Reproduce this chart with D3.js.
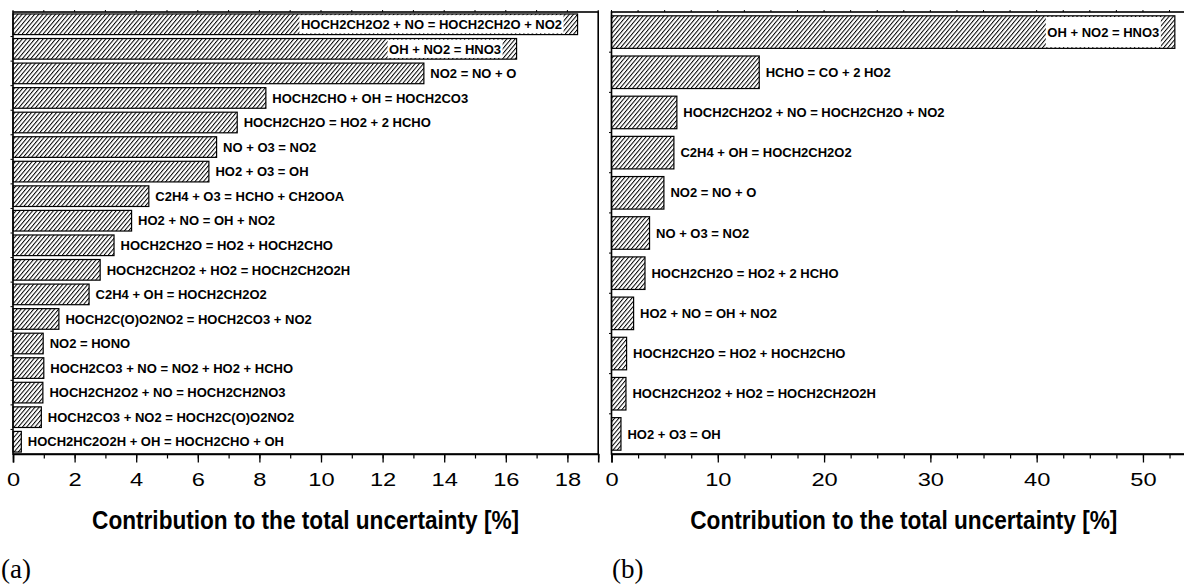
<!DOCTYPE html>
<html>
<head>
<meta charset="utf-8">
<script src="https://cdn.jsdelivr.net/npm/d3@7"></script>
<style>
  html, body { margin: 0; padding: 0; background: #fff; }
  svg { display: block; }
  .lbl { font-family: "Liberation Sans", Arial, Helvetica, sans-serif; font-weight: bold; font-size: 13px; fill: #000; }
  .tick text { font-family: "Liberation Sans", Arial, Helvetica, sans-serif; font-size: 18.5px; fill: #000; }
  .ttl { font-family: "Liberation Sans", Arial, Helvetica, sans-serif; font-weight: bold; font-size: 26px; fill: #000; }
  .tag { font-family: "Liberation Serif", "Times New Roman", serif; font-size: 27px; fill: #000; }
</style>
</head>
<body>
<script>
// Panel (a): reactions ranked by contribution to the total uncertainty
const reactionsA = [
  "HOCH2CH2O2 + NO = HOCH2CH2O + NO2",
  "OH + NO2 = HNO3",
  "NO2 = NO + O",
  "HOCH2CHO + OH = HOCH2CO3",
  "HOCH2CH2O = HO2 + 2 HCHO",
  "NO + O3 = NO2",
  "HO2 + O3 = OH",
  "C2H4 + O3 = HCHO + CH2OOA",
  "HO2 + NO = OH + NO2",
  "HOCH2CH2O = HO2 + HOCH2CHO",
  "HOCH2CH2O2 + HO2 = HOCH2CH2O2H",
  "C2H4 + OH = HOCH2CH2O2",
  "HOCH2C(O)O2NO2 = HOCH2CO3 + NO2",
  "NO2 = HONO",
  "HOCH2CO3 + NO = NO2 + HO2 + HCHO",
  "HOCH2CH2O2 + NO = HOCH2CH2NO3",
  "HOCH2CO3 + NO2 = HOCH2C(O)O2NO2",
  "HOCH2HC2O2H + OH = HOCH2CHO + OH"
];
const contributionA = [18.33, 16.35, 13.34, 8.21, 7.28, 6.61, 6.36, 4.41, 3.85, 3.28, 2.83, 2.47, 1.49, 0.98, 1.0, 0.97, 0.92, 0.27];
const ticksA = [0, 2, 4, 6, 8, 10, 12, 14, 16, 18];

// Panel (b)
const reactionsB = [
  "OH + NO2 = HNO3",
  "HCHO = CO + 2 HO2",
  "HOCH2CH2O2 + NO = HOCH2CH2O + NO2",
  "C2H4 + OH = HOCH2CH2O2",
  "NO2 = NO + O",
  "NO + O3 = NO2",
  "HOCH2CH2O = HO2 + 2 HCHO",
  "HO2 + NO = OH + NO2",
  "HOCH2CH2O = HO2 + HOCH2CHO",
  "HOCH2CH2O2 + HO2 = HOCH2CH2O2H",
  "HO2 + O3 = OH"
];
const contributionB = [53.0, 13.9, 6.15, 5.87, 4.93, 3.58, 3.15, 2.08, 1.42, 1.36, 0.89];
const ticksB = [0, 10, 20, 30, 40, 50];

const axisTitle = "Contribution to the total uncertainty [%]";

const W = 1184, H = 584;
const svg = d3.select("body").append("svg").attr("width", W).attr("height", H);
svg.append("rect").attr("width", W).attr("height", H).attr("fill", "#fff");

// diagonal hatch fill for the bars
const defs = svg.append("defs");
defs.append("pattern")
  .attr("id", "hatch")
  .attr("patternUnits", "userSpaceOnUse")
  .attr("width", 3.2).attr("height", 8)
  .attr("patternTransform", "rotate(40)")
  .append("line")
  .attr("x1", 0.5).attr("y1", 0).attr("x2", 0.5).attr("y2", 8)
  .attr("stroke", "#000").attr("stroke-width", 1);

const TOP = 12, BOTTOM = 454;

function drawPanel(opt) {
  const g = svg.append("g");
  const x = d3.scaleLinear().domain([0, opt.max]).range([opt.left, opt.right]);
  const y = d3.scaleBand().domain(opt.labels).range([TOP, BOTTOM])
    .paddingInner(opt.pad).paddingOuter(opt.pad / 2);

  const visibleRight = Math.min(opt.right, W) - 4;

  // bars
  const rows = opt.labels.map((l, i) => ({ label: l, value: opt.values[i] }));
  g.selectAll("rect.bar").data(rows).join("rect")
    .attr("class", "bar")
    .attr("x", x(0))
    .attr("y", d => y(d.label))
    .attr("width", d => x(d.value) - x(0))
    .attr("height", y.bandwidth())
    .attr("fill", "url(#hatch)")
    .attr("stroke", "#000")
    .attr("stroke-width", 1.2);

  // labels: beside the bar, or inside on a white box when there is no room
  rows.forEach(d => {
    const end = x(d.value);
    const cy = y(d.label) + y.bandwidth() / 2;
    const t = g.append("text").attr("class", "lbl")
      .attr("y", cy).attr("dy", "0.36em").text(d.label);
    const w = t.node().getComputedTextLength();
    if (end + 6.5 + w > visibleRight) {
      const tx = end - 15.5 - w;
      g.insert("rect", () => t.node())
        .attr("x", tx - 1.5).attr("y", y(d.label) + 1.2)
        .attr("width", w + 3).attr("height", y.bandwidth() - 2.4)
        .attr("fill", "#fff");
      t.attr("x", tx);
    } else {
      t.attr("x", end + 6.5);
    }
  });

  // small ticks at the category boundaries on the left edge
  const bounds = opt.labels.slice(1).map(l => y(l) - y.step() * y.paddingInner() / 2);
  g.selectAll("line.yt").data(bounds).join("line")
    .attr("x1", opt.left - 2.5).attr("x2", opt.left)
    .attr("y1", d => d).attr("y2", d => d)
    .attr("stroke", "#000").attr("stroke-width", 1);

  // frame
  g.append("rect")
    .attr("x", opt.left).attr("y", TOP)
    .attr("width", opt.right - opt.left).attr("height", BOTTOM - TOP)
    .attr("fill", "none").attr("stroke", "#000").attr("stroke-width", 1.6);

  // top edge minor ticks
  const minor = d3.range(0, opt.max + 1e-9, opt.minorStep);
  g.selectAll("line.tt").data(minor).join("line")
    .attr("x1", d => x(d)).attr("x2", d => x(d))
    .attr("y1", TOP - 2).attr("y2", TOP)
    .attr("stroke", "#000").attr("stroke-width", 1);

  // bottom axis: minor ticks, then labelled major ticks
  g.append("g").attr("transform", `translate(0,${BOTTOM})`)
    .call(d3.axisBottom(x).tickValues(minor).tickSize(4.5).tickFormat(""))
    .call(a => a.select(".domain").remove())
    .call(a => a.selectAll("line").attr("stroke-width", 1.2));

  const ax = g.append("g").attr("transform", `translate(0,${BOTTOM})`)
    .call(d3.axisBottom(x).tickValues(opt.ticks).tickSize(8.5).tickFormat(d3.format("d")));
  ax.select(".domain").attr("stroke-width", 1.6);
  ax.selectAll("line").attr("stroke-width", 1.3);
  ax.selectAll("text")
    .attr("y", 32.5).attr("dy", 0)
    .attr("transform", "scale(1.28,1)");

  // axis title
  svg.append("text").attr("class", "ttl")
    .attr("text-anchor", "middle")
    .attr("transform", `translate(${(opt.left + opt.right) / 2},529) scale(0.87,1)`)
    .text(axisTitle);

  // panel tag
  svg.append("text").attr("class", "tag")
    .attr("x", opt.tagX).attr("y", 578).text(opt.tag);
}

drawPanel({
  labels: reactionsA, values: contributionA, ticks: ticksA,
  max: 19, minorStep: 1, left: 13, right: 598.2, pad: 0.16,
  tag: "(a)", tagX: 1
});

drawPanel({
  labels: reactionsB, values: contributionB, ticks: ticksB,
  max: 55, minorStep: 2.5, left: 611.5, right: 1196.1, pad: 0.19,
  tag: "(b)", tagX: 612
});
</script>
</body>
</html>
